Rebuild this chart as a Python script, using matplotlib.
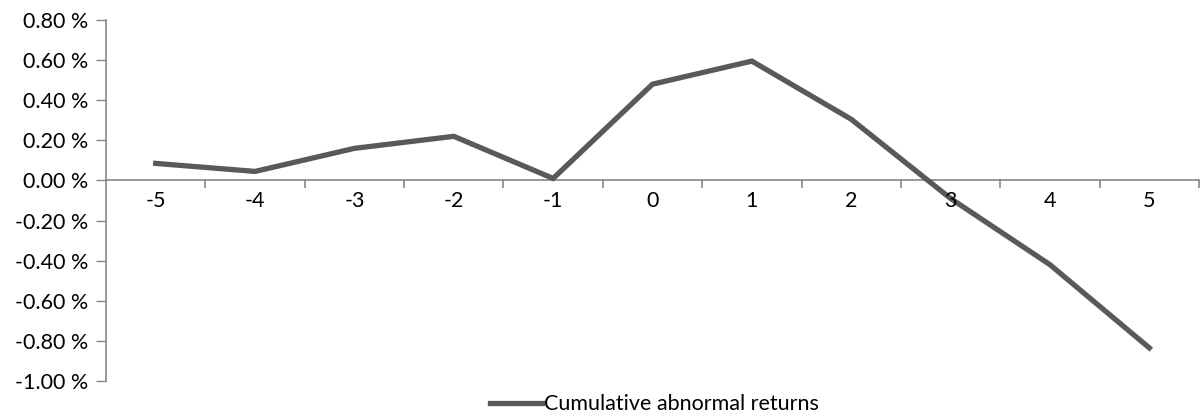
import matplotlib.pyplot as plt
from matplotlib.ticker import FuncFormatter, FixedLocator

plt.rcParams['font.family'] = ['Lato', 'DejaVu Sans']

days = [-5, -4, -3, -2, -1, 0, 1, 2, 3, 4, 5]
car = [0.085, 0.045, 0.16, 0.22, 0.01, 0.48, 0.595, 0.305, -0.09, -0.42, -0.835]
y_ticks = [0.8, 0.6, 0.4, 0.2, 0.0, -0.2, -0.4, -0.6, -0.8, -1.0]

fig = plt.figure(figsize=(12.01, 4.19), dpi=100)
ax = fig.add_axes([106 / 1201, 38 / 419, 1093 / 1201, 361 / 419])

pos = list(range(len(days)))
line, = ax.plot(pos, car, color='#595959', lw=3.8, solid_joinstyle='miter',
                label='Cumulative abnormal returns')

ax.set_xlim(-0.5, len(days) - 0.5)
ax.set_ylim(-1.0, 0.8)
ax.yaxis.set_major_locator(FixedLocator(y_ticks))
ax.yaxis.set_major_formatter(FuncFormatter(lambda v, p: f'{v:.2f} %'))
ax.tick_params(axis='y', length=7, width=1, color='#868686', labelsize=15.5, pad=6,
               labelcolor='black')

for s in ['top', 'right', 'bottom']:
    ax.spines[s].set_visible(False)
ax.spines['left'].set_color('#868686')
ax.spines['left'].set_linewidth(1.2)

# category axis drawn at zero
ax.axhline(0, color='#868686', lw=1.2, zorder=1)
ax.set_xticks([])
for k in range(1, len(days) + 1):
    ax.plot([k - 0.5, k - 0.5], [0, -0.035], color='#868686', lw=1.2, zorder=1,
            clip_on=False)
for p, d in zip(pos, days):
    ax.text(p, -0.1, str(d), ha='center', va='center', fontsize=15.5)

# legend centred under the plot area
fig.legend(handles=[line], loc='lower center', bbox_to_anchor=(0.545, -0.035),
           frameon=False, fontsize=15.5, handlelength=2.4, handletextpad=0.1)

fig.savefig('out.png', dpi=100)
